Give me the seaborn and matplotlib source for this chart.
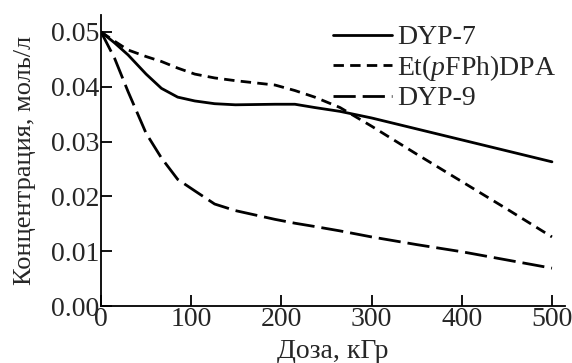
import matplotlib
matplotlib.use("Agg")
import matplotlib.pyplot as plt
import pandas as pd
import seaborn as sns

# values
dose = [0, 15, 30, 50, 67, 85, 104, 126, 149, 193, 215, 237, 265, 300, 350, 400, 450, 500]
dyp7 = [0.0500, 0.0480, 0.0458, 0.0423, 0.0397, 0.0381, 0.0374, 0.0369, 0.0367,
        0.0368, 0.0368, 0.0362, 0.0355, 0.0343, 0.0323, 0.0303, 0.0283, 0.0263]
etdpa = [0.0500, 0.0483, 0.0467, 0.0455, 0.0446, 0.0434, 0.0423, 0.0416, 0.0411,
         0.0403, 0.0393, 0.0381, 0.0362, 0.0328, 0.0277, 0.0227, 0.0177, 0.0126]
dyp9 = [0.0500, 0.0452, 0.0391, 0.0315, 0.0270, 0.0231, 0.0210, 0.0186, 0.0174,
        0.0158, 0.0151, 0.0145, 0.0137, 0.0126, 0.0112, 0.0099, 0.0084, 0.0069]

labels = ["DYP-7", "Et($\\it{p}$FPh)DPA", "DYP-9"]
xticks = [0, 100, 200, 300, 400, 500]
yticks = [0.00, 0.01, 0.02, 0.03, 0.04, 0.05]


def makePlot(outputName):
    sns.set_style("ticks")
    plt.rcParams["font.family"] = "serif"
    plt.rcParams["font.serif"] = ["Liberation Serif"]
    plt.rcParams["mathtext.fontset"] = "custom"
    plt.rcParams["mathtext.rm"] = "Liberation Serif"
    plt.rcParams["mathtext.it"] = "Liberation Serif:italic"
    plt.rcParams["lines.scale_dashes"] = False

    df = pd.DataFrame({
        "dose": dose * 3,
        "conc": dyp7 + etdpa + dyp9,
        "series": [labels[0]] * len(dose) + [labels[1]] * len(dose) + [labels[2]] * len(dose),
    })

    fig = plt.figure(figsize=(5.72, 3.63), dpi=100)
    ax = fig.add_axes([0.1766, 0.157, 0.812, 0.802])

    sns.lineplot(data=df, x="dose", y="conc", hue="series", style="series",
                 palette=["black"] * 3,
                 dashes={labels[0]: "", labels[1]: (7.5, 4.5), labels[2]: (16, 5)},
                 linewidth=2.0, ax=ax)

    ax.set_xlim(0, 515)
    ax.set_ylim(0, 0.0531)
    ax.set_xticks(xticks)
    ax.set_yticks(yticks)
    ax.set_yticklabels(["%.2f" % v for v in yticks])
    ax.tick_params(direction="in", length=8, width=1.3, labelsize=20, color="black")
    ax.tick_params(axis="y", pad=1)
    ax.tick_params(axis="x", pad=1)
    for s in ["left", "bottom"]:
        ax.spines[s].set_linewidth(1.3)
        ax.spines[s].set_color("black")
    sns.despine(ax=ax)

    ax.set_xlabel("Доза, кГр", fontsize=20, labelpad=5)
    ax.set_ylabel("Концентрация, моль/л", fontsize=19, labelpad=11)

    ax.legend(frameon=False, fontsize=20, loc="upper left",
              bbox_to_anchor=(0.5, 0.966), handlelength=2.1,
              handletextpad=0.2, labelspacing=0.1, borderaxespad=0,
              borderpad=0)

    plt.savefig(outputName, dpi=100)
    plt.close()


if __name__ == "__main__":
    makePlot("out.png")
